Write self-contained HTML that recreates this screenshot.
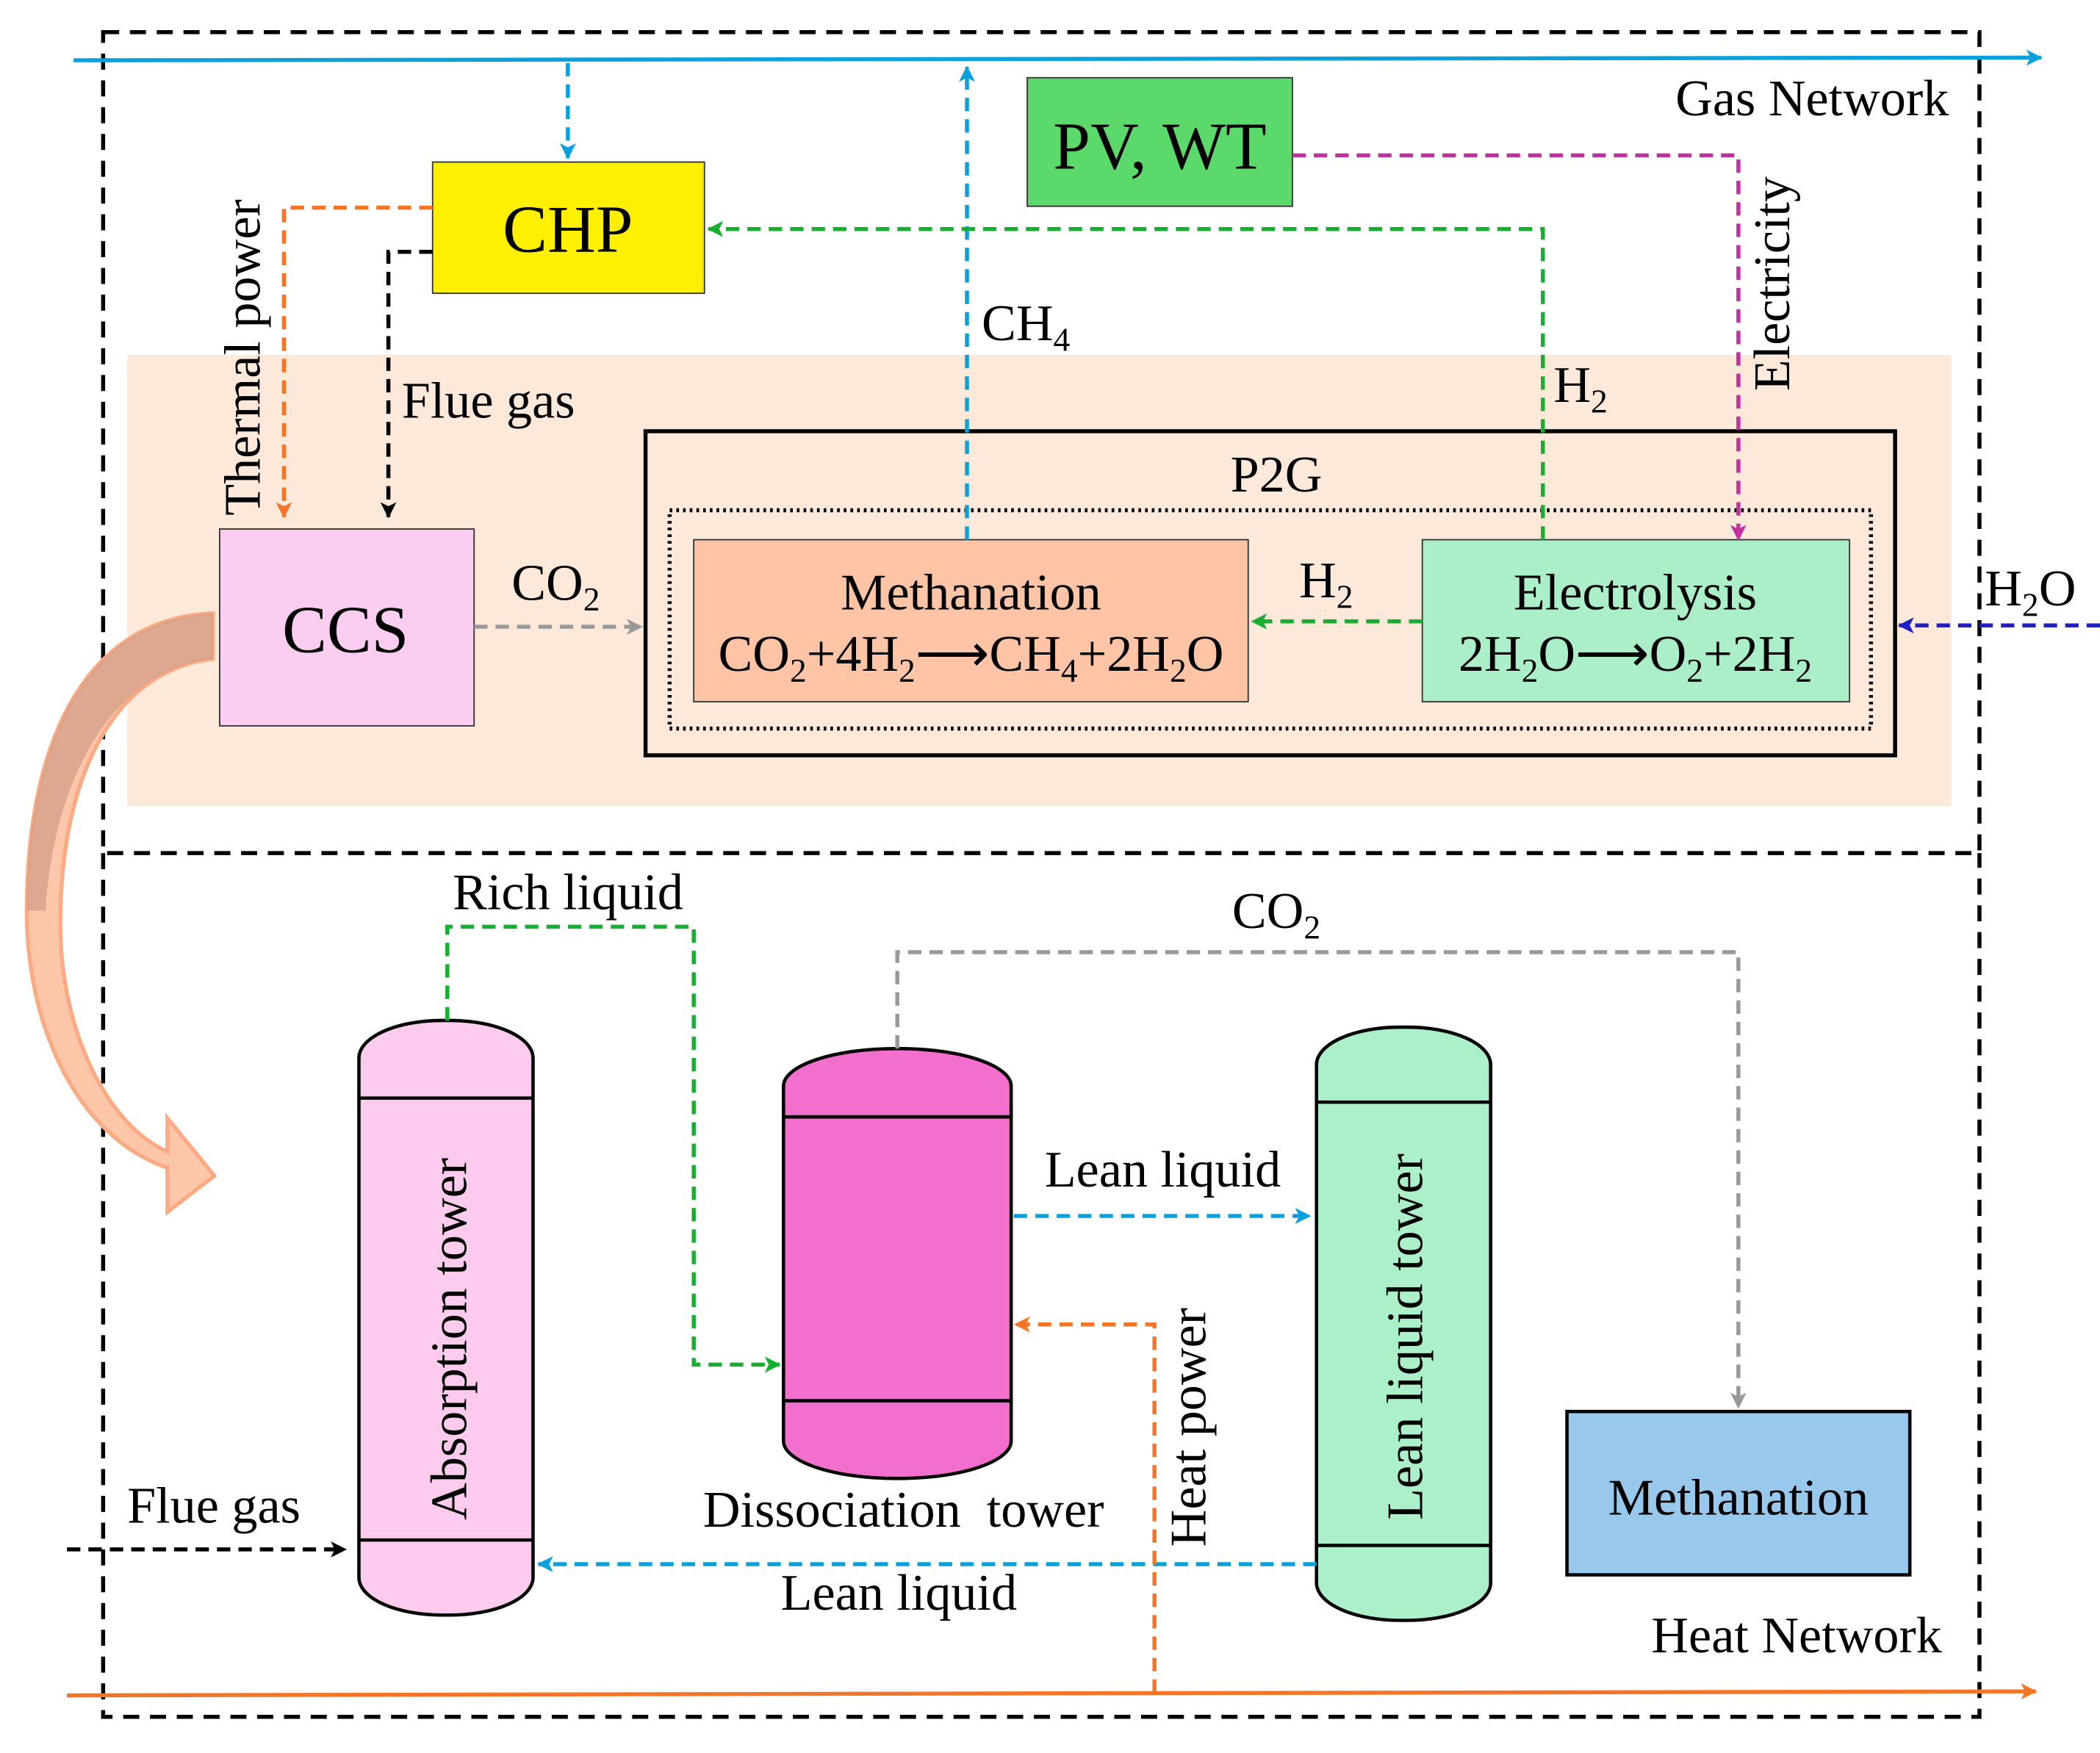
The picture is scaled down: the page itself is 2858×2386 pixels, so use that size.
<!DOCTYPE html>
<html><head><meta charset="utf-8"><style>html,body{margin:0;padding:0;background:#fff}svg{display:block}</style></head><body>
<svg width="2858" height="2386" viewBox="0 0 1568 1309" xmlns="http://www.w3.org/2000/svg" font-family="Liberation Serif, serif">
<defs>
<marker id="ab" markerWidth="12" markerHeight="12" refX="11" refY="6" orient="auto" markerUnits="userSpaceOnUse"><path d="M0,0 L12,6 L0,12 L3,6 z" fill="#0aa0dc"/></marker>
<marker id="ao" markerWidth="12" markerHeight="12" refX="11" refY="6" orient="auto" markerUnits="userSpaceOnUse"><path d="M0,0 L12,6 L0,12 L3,6 z" fill="#f57528"/></marker>
<marker id="ak" markerWidth="12" markerHeight="12" refX="11" refY="6" orient="auto" markerUnits="userSpaceOnUse"><path d="M0,0 L12,6 L0,12 L3,6 z" fill="#000"/></marker>
<marker id="ag" markerWidth="12" markerHeight="12" refX="11" refY="6" orient="auto" markerUnits="userSpaceOnUse"><path d="M0,0 L12,6 L0,12 L3,6 z" fill="#16b030"/></marker>
<marker id="agr" markerWidth="12" markerHeight="12" refX="11" refY="6" orient="auto" markerUnits="userSpaceOnUse"><path d="M0,0 L12,6 L0,12 L3,6 z" fill="#999"/></marker>
<marker id="am" markerWidth="12" markerHeight="12" refX="11" refY="6" orient="auto" markerUnits="userSpaceOnUse"><path d="M0,0 L12,6 L0,12 L3,6 z" fill="#c030a0"/></marker>
<marker id="an" markerWidth="12" markerHeight="12" refX="11" refY="6" orient="auto" markerUnits="userSpaceOnUse"><path d="M0,0 L12,6 L0,12 L3,6 z" fill="#2020c8"/></marker>
</defs>
<rect x="95" y="265" width="1362" height="337" fill="#fde9da"/>
<g fill="none" stroke="#000" stroke-width="3" stroke-dasharray="12,8">
<rect x="77" y="24" width="1401" height="613"/>
<path d="M77 637 V1282 H1478 V637"/>
</g>
<line x1="55" y1="45" x2="1524" y2="43" stroke="#0aa0dc" stroke-width="3" marker-end="url(#ab)"/>
<line x1="50" y1="1266" x2="1520" y2="1263" stroke="#f57528" stroke-width="3" marker-end="url(#ao)"/>
<rect x="323" y="121" width="203" height="98" fill="#ffef00" stroke="#333"/>
<text x="424" y="188" font-size="50" text-anchor="middle">CHP</text>
<rect x="767" y="58" width="198" height="96" fill="#5cd96b" stroke="#333"/>
<text x="866" y="126" font-size="50" text-anchor="middle">PV, WT</text>
<rect x="164" y="395" width="190" height="147" fill="#fbcdf0" stroke="#333"/>
<text x="258" y="487" font-size="50" text-anchor="middle">CCS</text>
<rect x="482" y="322" width="933" height="242" fill="none" stroke="#000" stroke-width="3"/>
<rect x="500" y="381" width="897" height="163" fill="none" stroke="#000" stroke-width="3" stroke-dasharray="2,3"/>
<text x="953" y="367" font-size="38.5" text-anchor="middle">P2G</text>
<rect x="518" y="403" width="414" height="121" fill="#fdc5a6" stroke="#333"/>
<text x="725" y="455" font-size="38.5" text-anchor="middle">Methanation</text>
<text x="725" y="501" font-size="38.5" text-anchor="middle">CO<tspan font-size="25" dy="8">2</tspan><tspan dy="-8">+4H</tspan><tspan font-size="25" dy="8">2</tspan><tspan dy="-8">⟶CH</tspan><tspan font-size="25" dy="8">4</tspan><tspan dy="-8">+2H</tspan><tspan font-size="25" dy="8">2</tspan><tspan dy="-8">O</tspan></text>
<rect x="1062" y="403" width="319" height="121" fill="#abefc9" stroke="#333"/>
<text x="1221" y="455" font-size="38.5" text-anchor="middle">Electrolysis</text>
<text x="1221" y="501" font-size="38.5" text-anchor="middle">2H<tspan font-size="25" dy="8">2</tspan><tspan dy="-8">O⟶O</tspan><tspan font-size="25" dy="8">2</tspan><tspan dy="-8">+2H</tspan><tspan font-size="25" dy="8">2</tspan></text>
<g fill="none" stroke-width="3" stroke-dasharray="10,6">
<path d="M424 47 V118" stroke="#0aa0dc" marker-end="url(#ab)"/>
<path d="M722 403 V50" stroke="#0aa0dc" marker-end="url(#ab)"/>
<path d="M323 155 H212 V386" stroke="#f57528" marker-end="url(#ao)"/>
<path d="M323 188 H290 V386" stroke="#000" marker-end="url(#ak)"/>
<path d="M1152 403 V171 H529" stroke="#16b030" marker-end="url(#ag)"/>
<path d="M1062 464 H935" stroke="#16b030" marker-end="url(#ag)"/>
<path d="M965 116 H1298 V403" stroke="#c030a0" marker-end="url(#am)"/>
<path d="M354 468 H479" stroke="#999" marker-end="url(#agr)"/>
<path d="M1568 467 H1418" stroke="#2020c8" marker-end="url(#an)"/>
</g>
<text x="733" y="254" font-size="38.5">CH<tspan font-size="25" dy="8">4</tspan></text>
<text x="300" y="312" font-size="38.5">Flue gas</text>
<text x="1160" y="300" font-size="38.5">H<tspan font-size="25" dy="8">2</tspan></text>
<text x="970" y="446" font-size="38.5">H<tspan font-size="25" dy="8">2</tspan></text>
<text x="382" y="448" font-size="38.5">CO<tspan font-size="25" dy="8">2</tspan></text>
<text x="1482" y="452" font-size="38.5">H<tspan font-size="25" dy="8">2</tspan><tspan dy="-8">O</tspan></text>
<text x="1251" y="86" font-size="38.5">Gas Network</text>
<text transform="translate(194,385) rotate(-90)" font-size="38.5">Thermal power</text>
<text transform="translate(1336,292) rotate(-90)" font-size="38.5">Electricity</text>
<path d="M159 458 C60 462 20 560 20 680 C20 770 60 850 125 872 L125 905 L160 878 L125 835 L125 860 C80 840 45 770 45 690 C45 580 85 500 159 492 Z" fill="#fcc6a9" stroke="#fbab83" stroke-width="3"/>
<path d="M159 458 C60 462 20 560 20 680 L34 680 C40 580 85 500 159 492 Z" fill="#d4a088" opacity="0.8"/>
<rect x="268" y="762" width="130" height="444" rx="62" ry="28" fill="#fccbee" stroke="#000" stroke-width="2.5"/>
<line x1="268" y1="820" x2="398" y2="820" stroke="#000" stroke-width="2.5"/>
<line x1="268" y1="1150" x2="398" y2="1150" stroke="#000" stroke-width="2.5"/>
<text transform="translate(348,1135) rotate(-90)" font-size="38.5">Absorption tower</text>
<rect x="585" y="783" width="170" height="321" rx="84" ry="28" fill="#f26fcd" stroke="#000" stroke-width="2.5"/>
<line x1="585" y1="834" x2="755" y2="834" stroke="#000" stroke-width="2.5"/>
<line x1="585" y1="1046" x2="755" y2="1046" stroke="#000" stroke-width="2.5"/>
<rect x="983" y="767" width="130" height="443" rx="62" ry="28" fill="#abf0c8" stroke="#000" stroke-width="2.5"/>
<line x1="983" y1="823" x2="1113" y2="823" stroke="#000" stroke-width="2.5"/>
<line x1="983" y1="1154" x2="1113" y2="1154" stroke="#000" stroke-width="2.5"/>
<text transform="translate(1062,1135) rotate(-90)" font-size="38.5">Lean liquid tower</text>
<rect x="1170" y="1054" width="256" height="122" fill="#98c9ec" stroke="#000" stroke-width="2.5"/>
<text x="1298" y="1131" font-size="38.5" text-anchor="middle">Methanation</text>
<g fill="none" stroke-width="3" stroke-dasharray="10,6">
<path d="M334 762 V692 H518 V1019 H582" stroke="#16b030" marker-end="url(#ag)"/>
<path d="M670 783 V711 H1298 V1051" stroke="#999" marker-end="url(#agr)"/>
<path d="M757 908 H978" stroke="#0aa0dc" marker-end="url(#ab)"/>
<path d="M983 1168 H402" stroke="#0aa0dc" marker-end="url(#ab)"/>
<path d="M862 1264 V989 H758" stroke="#f57528" marker-end="url(#ao)"/>
<path d="M50 1157 H258" stroke="#000" marker-end="url(#ak)"/>
</g>
<text x="338" y="679" font-size="38.5">Rich liquid</text>
<text x="920" y="693" font-size="38.5">CO<tspan font-size="25" dy="8">2</tspan></text>
<text x="780" y="886" font-size="38.5">Lean liquid</text>
<text x="525" y="1140" font-size="38.5" xml:space="preserve">Dissociation  tower</text>
<text transform="translate(900,1155) rotate(-90)" font-size="38.5">Heat power</text>
<text x="95" y="1137" font-size="38.5">Flue gas</text>
<text x="583" y="1202" font-size="38.5">Lean liquid</text>
<text x="1233" y="1234" font-size="38.5">Heat Network</text>
</svg>
</body></html>
